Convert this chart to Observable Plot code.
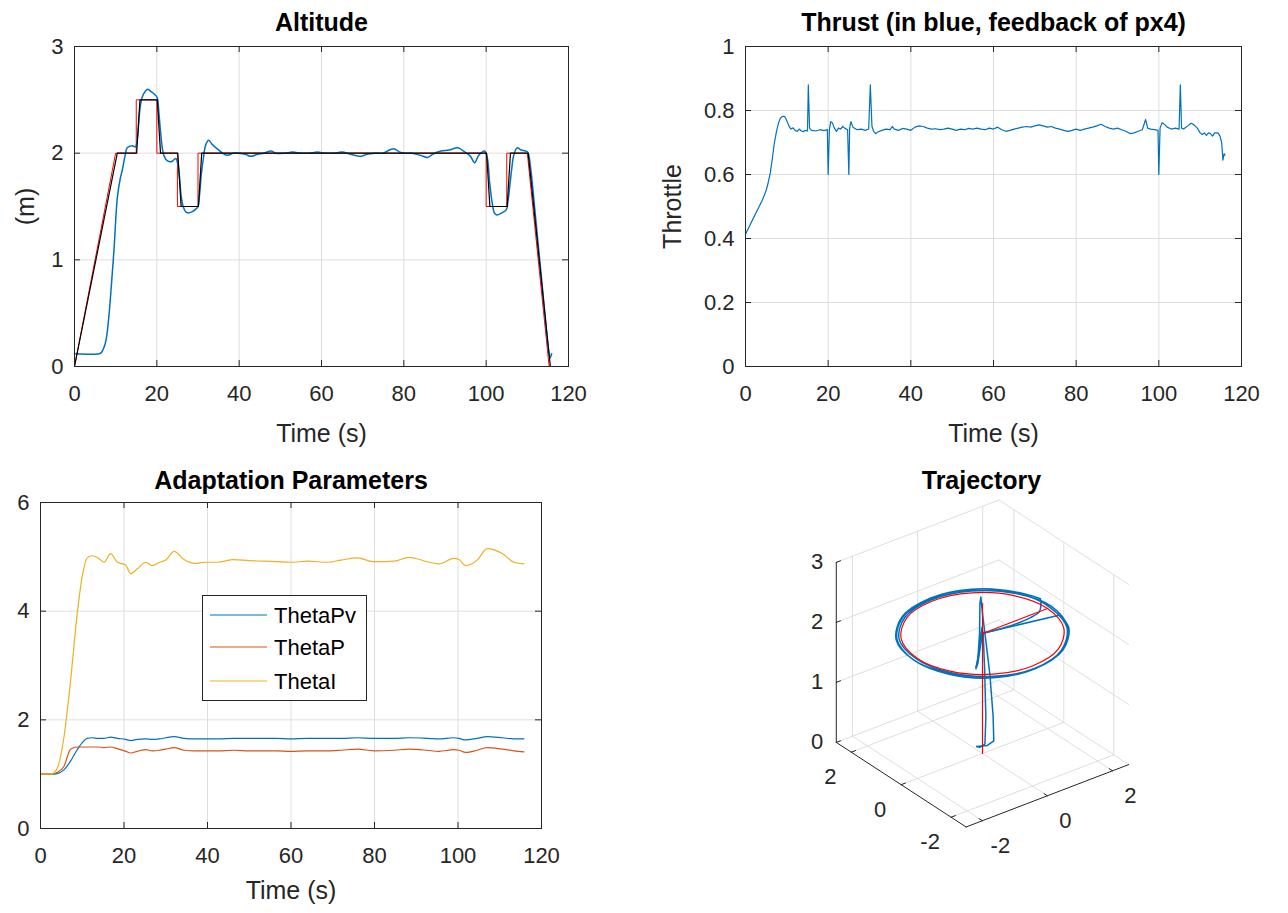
<!DOCTYPE html>
<html><head><meta charset="utf-8">
<script src="https://cdn.jsdelivr.net/npm/d3@7"></script>
<script src="https://cdn.jsdelivr.net/npm/@observablehq/plot@0.6"></script>
<style>
body{margin:0;background:#fff;}
#fig{position:relative;width:1288px;height:913px;background:#fff;overflow:hidden;}
#fig > div{position:absolute;}
</style></head><body><div id="fig"></div>
<script>
// ---------------- DATA ----------------
const timeTicks = [0, 20, 40, 60, 80, 100, 120];
const altTicks = [0, 1, 2, 3];
const thrTicks = [0, 0.2, 0.4, 0.6, 0.8, 1];
const adaTicks = [0, 2, 4, 6];

// Altitude: setpoint (red), filtered reference (black), measured (blue)
const altRefT = [0, 10, 15, 15, 20, 20, 25, 25, 30, 30, 100, 100, 105, 105, 110, 115.3];
const altRefZ = [0, 2, 2, 2.5, 2.5, 2, 2, 1.5, 1.5, 2, 2, 1.5, 1.5, 2, 2, 0];
const altFiltT = [0, 10.4, 15.1, 15.9, 20.1, 20.9, 25.1, 25.9, 30.1, 30.9, 100.1, 100.9, 105.1, 105.9, 110.2, 115.6];
const altFiltZ = [0, 2, 2, 2.5, 2.5, 2, 2, 1.5, 1.5, 2, 2, 1.5, 1.5, 2, 2, 0];
const altMeasT = [0, 6, 6.5, 7.5, 8.3, 8.8, 9.6, 10.4, 11.1, 11.6, 12.3, 12.8, 14.0, 14.8, 15.3, 15.8, 16.4, 17.2, 17.8, 18.5, 19.5, 20.1, 20.5, 20.9, 21.4, 21.8, 22.5, 23.5, 24.6, 25.1, 25.5, 25.9, 26.4, 27.0, 27.6, 28.5, 29.6, 30.0, 30.4, 30.8, 31.3, 31.9, 32.6, 33.5, 34.7, 36, 37.2, 38.5, 40, 41.5, 42.8, 44.5, 46, 47.7, 49, 51, 53, 55, 57, 59, 61, 63, 65, 67, 69.6, 71, 73, 75, 76.5, 77.7, 79, 80.5, 82, 84, 85.8, 87, 89, 91, 93.1, 94.5, 96.2, 97.2, 98.2, 99.6, 100.3, 100.8, 101.4, 102, 102.6, 103.8, 104.9, 105.3, 105.7, 106.2, 106.7, 107.5, 108.5, 109.5, 110.1, 110.8, 111.7, 112.5, 113.4, 114.3, 115.0, 115.5, 115.9];
const altMeasZ = [0.12, 0.12, 0.13, 0.22, 0.45, 0.68, 1.1, 1.58, 1.76, 1.84, 1.98, 2.05, 2.07, 2.06, 2.15, 2.38, 2.52, 2.58, 2.6, 2.58, 2.55, 2.52, 2.38, 2.2, 2.03, 1.97, 1.93, 1.92, 1.95, 1.9, 1.78, 1.6, 1.5, 1.45, 1.44, 1.45, 1.48, 1.5, 1.62, 1.8, 1.95, 2.08, 2.12, 2.08, 2.04, 2.0, 1.98, 2.0, 2.0, 1.99, 1.97, 1.99, 2.0, 2.02, 2.0, 2.0, 2.01, 2.0, 2.0, 2.01, 2.0, 2.0, 2.01, 1.99, 1.97, 1.99, 2.0, 2.0, 2.03, 2.04, 2.01, 2.0, 2.0, 1.98, 1.96, 1.99, 2.02, 2.03, 2.05, 2.02, 1.97, 1.91, 1.98, 2.02, 1.95, 1.74, 1.55, 1.44, 1.42, 1.44, 1.47, 1.55, 1.68, 1.85, 1.98, 2.05, 2.03, 2.02, 2.01, 1.86, 1.52, 1.2, 0.84, 0.48, 0.2, 0.08, 0.12];

// Thrust (throttle feedback)
const thrT = [0, 1, 2, 3, 4, 5, 5.5, 6, 6.5, 7, 7.5, 8, 8.5, 9, 9.5, 10, 10.5, 11, 11.5, 12, 12.5, 13, 13.5, 14, 14.5, 15, 15.2, 15.5, 16, 17, 18, 19, 19.8, 20, 20.3, 20.6, 21, 21.5, 22, 22.5, 23, 23.5, 24, 24.7, 25, 25.2, 25.5, 26, 27, 28, 29, 29.8, 30.2, 30.6, 31, 31.5, 32, 33, 34, 35, 35.5, 36, 37, 38, 39, 40, 41, 42, 43, 44, 45, 46, 47, 48, 49, 50, 51, 52, 53, 54, 55, 56, 57, 58, 59, 60, 61, 62, 63, 64, 65, 66, 67, 68, 69, 70, 71, 72, 73, 74, 75, 76, 77, 78, 79, 80, 81, 82, 83, 84, 85, 86, 87, 88, 89, 90, 91, 92, 93, 94, 95, 96, 96.8, 97.3, 98, 99, 99.8, 100, 100.3, 100.8, 101.5, 102, 103, 104, 104.9, 105.2, 105.5, 106, 107, 107.8, 108.5, 109.3, 110, 110.5, 111, 111.5, 112, 112.5, 113, 113.5, 114.3, 114.8, 115.2, 115.5, 115.8, 116];
const thrV = [0.413, 0.44, 0.466, 0.492, 0.518, 0.55, 0.575, 0.605, 0.65, 0.70, 0.735, 0.762, 0.777, 0.782, 0.781, 0.768, 0.752, 0.742, 0.746, 0.738, 0.735, 0.742, 0.736, 0.734, 0.738, 0.736, 0.88, 0.745, 0.738, 0.736, 0.74, 0.737, 0.74, 0.60, 0.74, 0.765, 0.762, 0.745, 0.735, 0.745, 0.742, 0.75, 0.745, 0.74, 0.60, 0.745, 0.765, 0.748, 0.74, 0.742, 0.738, 0.742, 0.88, 0.75, 0.735, 0.728, 0.733, 0.738, 0.742, 0.74, 0.75, 0.742, 0.738, 0.744, 0.742, 0.738, 0.748, 0.752, 0.75, 0.745, 0.742, 0.743, 0.74, 0.742, 0.745, 0.742, 0.738, 0.742, 0.74, 0.744, 0.742, 0.745, 0.742, 0.74, 0.745, 0.742, 0.748, 0.74, 0.735, 0.738, 0.742, 0.745, 0.748, 0.75, 0.748, 0.752, 0.755, 0.752, 0.748, 0.75, 0.745, 0.742, 0.738, 0.735, 0.738, 0.742, 0.738, 0.742, 0.745, 0.748, 0.752, 0.757, 0.75, 0.745, 0.742, 0.745, 0.74, 0.735, 0.728, 0.73, 0.735, 0.74, 0.772, 0.745, 0.742, 0.74, 0.738, 0.60, 0.745, 0.762, 0.755, 0.748, 0.742, 0.745, 0.742, 0.88, 0.745, 0.742, 0.752, 0.76, 0.755, 0.745, 0.73, 0.725, 0.73, 0.722, 0.73, 0.728, 0.72, 0.73, 0.73, 0.72, 0.70, 0.645, 0.665, 0.66];

// Adaptation parameters
const adaT = [0, 2.5, 4, 5.6, 7.2, 8.8, 10, 11.2, 12.4, 13.8, 15.2, 16.8, 18.4, 20.4, 21.6, 23.2, 25.2, 26.8, 28.5, 30, 32, 34.4, 36.8, 39.5, 42.4, 46.3, 50, 53.5, 56.5, 59.9, 63.9, 68.7, 72, 75.9, 79.9, 84.7, 88.3, 92.6, 95.4, 99, 100.2, 101.8, 104.6, 107, 110.6, 113.4, 115.8];
const thetaPv = [1.0, 1.0, 1.01, 1.08, 1.24, 1.45, 1.58, 1.66, 1.67, 1.66, 1.66, 1.68, 1.66, 1.64, 1.62, 1.64, 1.65, 1.64, 1.65, 1.67, 1.69, 1.66, 1.65, 1.65, 1.65, 1.66, 1.66, 1.66, 1.66, 1.65, 1.66, 1.66, 1.66, 1.67, 1.66, 1.66, 1.67, 1.66, 1.65, 1.67, 1.66, 1.63, 1.66, 1.69, 1.67, 1.65, 1.65];
const thetaP = [1.0, 1.0, 1.03, 1.14, 1.46, 1.5, 1.5, 1.5, 1.5, 1.5, 1.49, 1.5, 1.47, 1.42, 1.39, 1.42, 1.45, 1.43, 1.44, 1.46, 1.49, 1.44, 1.43, 1.43, 1.43, 1.44, 1.43, 1.43, 1.43, 1.42, 1.43, 1.43, 1.44, 1.46, 1.43, 1.44, 1.46, 1.44, 1.42, 1.45, 1.44, 1.40, 1.44, 1.49, 1.46, 1.43, 1.41];
const thetaI = [1.0, 1.0, 1.11, 1.67, 2.72, 3.96, 4.64, 4.98, 5.02, 4.98, 4.9, 5.06, 4.9, 4.85, 4.69, 4.78, 4.9, 4.84, 4.9, 4.94, 5.1, 4.95, 4.88, 4.9, 4.9, 4.95, 4.93, 4.92, 4.91, 4.9, 4.92, 4.9, 4.94, 4.98, 4.91, 4.92, 4.99, 4.91, 4.87, 4.97, 4.95, 4.84, 4.94, 5.15, 5.06, 4.9, 4.87];
const adaNames = ["ThetaPv", "ThetaP", "ThetaI"];

// 3D trajectory [x, y, z]
const traj3Ticks = {x: [-2, 0, 2], y: [-2, 0, 2], z: [0, 1, 2, 3]};
const traj3Lim = {x: [-2.5, 2.5], y: [-2.6, 2.6], z: [0, 3]};
const refVertical = [[0, 0, 0], [0, 0, 2.5]];
const refRadial = [[0, 0, 2], [2, 0, 2]];
const refCircle = [[2, 0, 2], [1.732, 1, 2], [1, 1.732, 2], [0, 2, 2], [-1, 1.732, 2], [-1.732, 1, 2], [-2, 0, 2], [-1.732, -1, 2], [-1, -1.732, 2], [0, -2, 2], [1, -1.732, 2], [1.732, -1, 2]];
const flightTakeoff = [[-0.12, 0.08, 0.12], [0.12, -0.04, 0.12], [0.27, -0.1, 0.18], [0.25, -0.1, 0.6], [0.18, -0.06, 1.3], [0.08, -0.02, 1.9], [0.02, 0.02, 2.3], [-0.02, 0.04, 2.6], [-0.04, 0.05, 2.5], [-0.06, 0.04, 2.0], [-0.1, 0.06, 1.55], [-0.14, 0.08, 1.44], [-0.1, 0.04, 1.6], [-0.02, 0.0, 2.1], [0.0, 0.0, 2.0]];
const flightOut = [[0.0, 0.0, 2.0], [0.8, -0.12, 2.0], [1.4, -0.1, 2.0], [1.75, 0.0, 2.0], [1.95, 0.2, 2.02], [2.1, 0.42, 2.03]];
const flightLoops = [[2.1, 0.42, 2.03],
  [1.82, 1.05, 2.03], [1.05, 1.82, 2.02], [0, 2.1, 2.01], [-1.05, 1.82, 2.0], [-1.82, 1.05, 1.99], [-2.1, 0, 1.99], [-1.82, -1.05, 2.0], [-1.05, -1.82, 1.98], [0, -2.1, 1.98], [1.05, -1.82, 1.99], [1.82, -1.05, 2.0], [2.12, 0, 2.01],
  [1.78, 1.03, 2.02], [1.03, 1.78, 2.01], [0, 2.06, 2.0], [-1.03, 1.77, 2.0], [-1.78, 1.02, 2.0], [-2.05, 0, 2.01], [-1.79, -1.03, 2.0], [-1.04, -1.8, 1.99], [0, -2.08, 1.98], [1.04, -1.8, 1.99], [1.8, -1.04, 2.0], [2.08, 0, 2.0],
  [1.82, 1.06, 2.02], [1.06, 1.84, 2.02], [0, 2.12, 2.01], [-1.06, 1.84, 2.0], [-1.84, 1.06, 1.99], [-2.12, 0, 2.0], [-1.84, -1.06, 1.99], [-1.06, -1.84, 1.98], [0, -2.12, 1.99], [1.06, -1.84, 2.0], [1.84, -1.06, 2.0], [2.02, -0.43, 2.0]];
const flightBack = [[2.02, -0.43, 2.0], [0.05, 0.0, 2.0]];
const flightLanding = [[0.05, 0.0, 2.0], [0.0, 0.02, 1.95], [-0.1, 0.06, 1.5], [-0.14, 0.08, 1.42], [-0.08, 0.04, 1.7], [0.0, 0.0, 2.05], [0.02, 0.0, 2.0], [0.05, -0.02, 1.4], [0.08, -0.03, 0.6], [0.06, -0.02, 0.15], [-0.05, 0.05, 0.1], [-0.12, 0.08, 0.12]];

// ---------------- STYLE ----------------
const FONT = '"Liberation Sans", Arial, Helvetica, sans-serif';
const AX = "#262626", GRID = "#dedede";
const BLUE = "#0072BD", ORANGE = "#D95319", YELLOW = "#EDB120";
const fig = document.getElementById("fig");
function place(node, left, top) {
  const d = document.createElement("div");
  d.style.left = left + "px"; d.style.top = top + "px";
  d.appendChild(node); fig.appendChild(d);
}
const zip = (a, b) => a.map((v, i) => ({t: v, v: b[i]}));
const fmt = d => String(d);

function panel2d(o) {
  const fw = o.width - o.mL - o.mR, fh = o.height - o.mT - o.mB;
  return Plot.plot({
    width: o.width, height: o.height,
    marginLeft: o.mL, marginRight: o.mR, marginTop: o.mT, marginBottom: o.mB,
    style: {fontFamily: FONT, fontSize: "22px", color: AX, background: "transparent", overflow: "visible"},
    x: {domain: o.xDomain}, y: {domain: o.yDomain},
    marks: [
      Plot.gridX(o.xTicks, {stroke: GRID, strokeOpacity: 1}),
      Plot.gridY(o.yTicks, {stroke: GRID, strokeOpacity: 1}),
      ...o.marks,
      Plot.ruleX(o.xTicks, {stroke: AX, insetTop: fh - 6}),
      Plot.ruleX(o.xTicks, {stroke: AX, insetBottom: fh - 6}),
      Plot.ruleY(o.yTicks, {stroke: AX, insetRight: fw - 6}),
      Plot.ruleY(o.yTicks, {stroke: AX, insetLeft: fw - 6}),
      Plot.frame({stroke: AX}),
      Plot.axisX({ticks: o.xTicks, tickSize: 0, tickPadding: 19, label: null, fontSize: 22, tickFormat: fmt}),
      Plot.axisY({ticks: o.yTicks, tickSize: 0, tickPadding: 11, label: null, fontSize: 22, tickFormat: fmt}),
      Plot.text([o.title], {text: d => d, frameAnchor: "top", lineAnchor: "middle", dy: o.titleDy, fontSize: 25, fontWeight: "bold", fill: "#000"}),
      Plot.text([o.xLabel], {text: d => d, frameAnchor: "bottom", lineAnchor: "middle", dy: o.xLabelDy, fontSize: 25, fill: AX}),
      o.yLabel ? Plot.text([o.yLabel], {text: d => d, frameAnchor: "left", textAnchor: "middle", lineAnchor: "middle", dx: o.yLabelDx, rotate: -90, fontSize: 25, fill: AX}) : null
    ]
  });
}

// ---- Altitude ----
place(panel2d({
  width: 644, height: 456, mL: 74, mR: 76, mT: 46, mB: 90,
  xDomain: [0, 120], yDomain: [0, 3], xTicks: timeTicks, yTicks: altTicks,
  title: "Altitude", titleDy: -24, xLabel: "Time (s)", xLabelDy: 67, yLabel: "(m)", yLabelDx: -49,
  marks: [
    Plot.line(zip(altRefT, altRefZ), {x: "t", y: "v", stroke: "#ff0000", strokeWidth: 1}),
    Plot.line(zip(altMeasT, altMeasZ), {x: "t", y: "v", stroke: BLUE, strokeWidth: 1.5, curve: "catmull-rom"}),
    Plot.line(zip(altFiltT, altFiltZ), {x: "t", y: "v", stroke: "#000", strokeWidth: 1.2})
  ]
}), 0, 0);

// ---- Thrust ----
place(panel2d({
  width: 644, height: 456, mL: 101, mR: 47, mT: 46, mB: 90,
  xDomain: [0, 120], yDomain: [0, 1], xTicks: timeTicks, yTicks: thrTicks,
  title: "Thrust (in blue, feedback of px4)", titleDy: -24, xLabel: "Time (s)", xLabelDy: 67, yLabel: "Throttle", yLabelDx: -73,
  marks: [
    Plot.line(zip(thrT, thrV), {x: "t", y: "v", stroke: BLUE, strokeWidth: 1.2})
  ]
}), 644, 0);

// ---- Adaptation ----
const adaSeries = [thetaPv, thetaP, thetaI];
const adaColors = [BLUE, ORANGE, YELLOW];
const adaPlot = panel2d({
  width: 644, height: 457, mL: 40, mR: 103, mT: 46, mB: 85,
  xDomain: [0, 120], yDomain: [0, 6], xTicks: timeTicks, yTicks: adaTicks,
  title: "Adaptation Parameters", titleDy: -22, xLabel: "Time (s)", xLabelDy: 62, yLabel: null,
  marks: adaSeries.map((s, i) => Plot.line(zip(adaT, s), {x: "t", y: "v", stroke: adaColors[i], strokeWidth: 1.2, curve: "monotone-x"}))
});
// legend box (layout only)
{
  const svg = d3.select(adaPlot);
  const g = svg.append("g").attr("font-family", FONT).attr("font-size", "22px").attr("text-anchor", "start");
  g.append("rect").attr("x", 202.5).attr("y", 139.5).attr("width", 164).attr("height", 105)
    .attr("fill", "#fff").attr("stroke", AX).attr("stroke-width", 1);
  const rowY = [159, 191, 225];
  adaNames.forEach((n, i) => {
    g.append("line").attr("x1", 210).attr("x2", 267).attr("y1", rowY[i]).attr("y2", rowY[i])
      .attr("stroke", adaColors[i]).attr("stroke-width", 1.2);
    g.append("text").attr("x", 274).attr("y", rowY[i]).attr("dy", "0.36em").attr("text-anchor", "start").attr("fill", "#000").text(n);
  });
}
place(adaPlot, 0, 456);

// ---- Trajectory (3D, MATLAB default view az=-37.5, el=30) ----
const az = -37.5 * Math.PI / 180, el = 30 * Math.PI / 180, zAspect = 1.69;
const proj = ([x, y, z]) => ({
  h: x * Math.cos(az) + y * Math.sin(az),
  w: -x * Math.sin(az) * Math.sin(el) + y * Math.cos(az) * Math.sin(el) + z * zAspect * Math.cos(el)
});
const path = pts => pts.map(proj);
const [x0, x1] = traj3Lim.x, [y0, y1] = traj3Lim.y, [z0, z1] = traj3Lim.z;
const gridSegs = [];
traj3Ticks.x.forEach(x => { gridSegs.push([[x, y0, z0], [x, y1, z0]]); gridSegs.push([[x, y1, z0], [x, y1, z1]]); });
traj3Ticks.y.forEach(y => { gridSegs.push([[x0, y, z0], [x1, y, z0]]); gridSegs.push([[x1, y, z0], [x1, y, z1]]); });
traj3Ticks.z.forEach(z => { gridSegs.push([[x0, y1, z], [x1, y1, z]]); gridSegs.push([[x1, y0, z], [x1, y1, z]]); });
const axisSegs = [[[x0, y0, z0], [x1, y0, z0]], [[x0, y0, z0], [x0, y1, z0]], [[x0, y1, z0], [x0, y1, z1]]];
traj3Ticks.x.forEach(x => axisSegs.push([[x, y0, z0], [x, y0 + 0.13, z0]]));
traj3Ticks.y.forEach(y => axisSegs.push([[x0, y, z0], [x0 + 0.13, y, z0]]));
traj3Ticks.z.forEach(z => axisSegs.push([[x0, y1, z], [x0 + 0.13, y1, z]]));
const segRows = segs => segs.flatMap((s, i) => s.map(p => ({...proj(p), id: i})));
const xLab = traj3Ticks.x.map(x => ({...proj([x, y0, z0]), label: fmt(x)}));
const yLab = traj3Ticks.y.map(y => ({...proj([x0, y, z0]), label: fmt(y)}));
const zLab = traj3Ticks.z.map(z => ({...proj([x0, y1, z]), label: fmt(z)}));
const S = 41, OX = 338, OY = 297, W4 = 644, H4 = 457;
const trajPlot = Plot.plot({
  width: W4, height: H4, margin: 0,
  style: {fontFamily: FONT, fontSize: "22px", color: AX, background: "transparent", overflow: "visible"},
  x: {domain: [-OX / S, (W4 - OX) / S], range: [0, W4], axis: null},
  y: {domain: [-(H4 - OY) / S, OY / S], range: [H4, 0], axis: null},
  marks: [
    Plot.line(segRows(gridSegs), {x: "h", y: "w", z: "id", stroke: GRID, strokeWidth: 1}),
    Plot.line(segRows(axisSegs), {x: "h", y: "w", z: "id", stroke: AX, strokeWidth: 1}),
    Plot.text(xLab, {x: "h", y: "w", text: "label", dx: 18, dy: 25, fontSize: 22, fill: AX}),
    Plot.text(yLab, {x: "h", y: "w", text: "label", dx: -21, dy: 25, fontSize: 22, fill: AX}),
    Plot.text(zLab, {x: "h", y: "w", text: "label", dx: -13, textAnchor: "end", fontSize: 22, fill: AX}),
    Plot.line(path(flightTakeoff), {x: "h", y: "w", stroke: BLUE, strokeWidth: 1.5}),
    Plot.line(path(flightOut), {x: "h", y: "w", stroke: BLUE, strokeWidth: 1.5, curve: "catmull-rom"}),
    Plot.line(path(flightLoops), {x: "h", y: "w", stroke: BLUE, strokeWidth: 1.5, curve: "catmull-rom"}),
    Plot.line(path(flightBack), {x: "h", y: "w", stroke: BLUE, strokeWidth: 1.5}),
    Plot.line(path(flightLanding), {x: "h", y: "w", stroke: BLUE, strokeWidth: 1.5}),
    Plot.line(path(refVertical), {x: "h", y: "w", stroke: "#ff0000", strokeWidth: 1.2}),
    Plot.line(path(refRadial), {x: "h", y: "w", stroke: "#ff0000", strokeWidth: 1.2}),
    Plot.line(path(refCircle), {x: "h", y: "w", stroke: "#ff0000", strokeWidth: 1.2, curve: "catmull-rom-closed"}),
    Plot.text(["Trajectory"], {text: d => d, frameAnchor: "top", lineAnchor: "middle", dx: 15, dy: 24, fontSize: 25, fontWeight: "bold", fill: "#000"})
  ]
});
place(trajPlot, 644, 456);
</script></body></html>
